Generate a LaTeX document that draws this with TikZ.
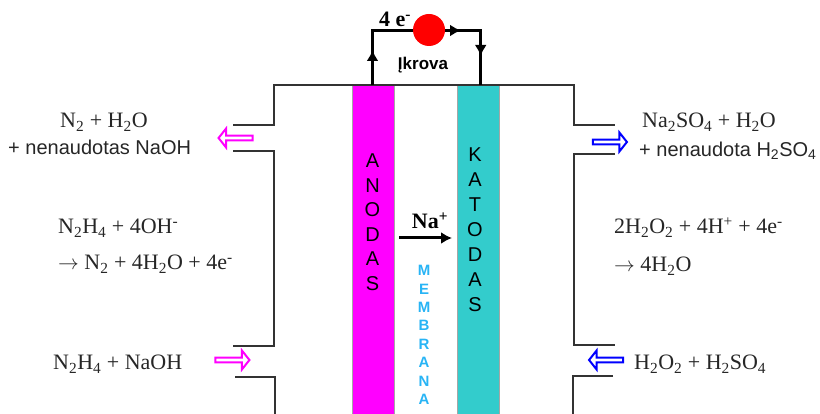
\documentclass[tikz,border=0pt]{standalone}
\usepackage{fontspec}
\setmainfont{Liberation Serif}
\setsansfont{Liberation Sans}
\usetikzlibrary{arrows.meta,shapes.arrows}
\definecolor{anodecolor}{RGB}{255,0,255}
\definecolor{cathodecolor}{RGB}{51,204,204}
\definecolor{flowblue}{RGB}{0,0,255}
\definecolor{flowred}{RGB}{255,0,0}
\definecolor{membranecolor}{RGB}{40,180,245}
\tikzset{
  formula/.style={anchor=base west, inner sep=0pt, font=\fontsize{22}{26}\selectfont, text=black!85},
  remark/.style={anchor=base west, inner sep=0pt, font=\sffamily\fontsize{20}{24}\selectfont, text=black!85},
  wall/.style={line width=2pt, black!80},
  wire/.style={line width=3pt, >={Latex[length=11pt,width=12pt]}},
  electrode/.style={anchor=north west, minimum height=329pt, minimum width=42pt, inner sep=0pt, draw=black!35, line width=0.7pt},
  letters/.style={inner sep=0pt, align=center, font=\sffamily\fontsize{20}{#1}\selectfont},
  flow/.style={single arrow, draw=#1, fill=white, line width=2pt, inner sep=0pt, minimum height=34pt,
    minimum width=19pt, single arrow head extend=3pt, single arrow tip angle=103}
}
\begin{document}
\begin{tikzpicture}[x=1pt, y=-1pt]
  \useasboundingbox (0,0) rectangle (820,414);
  % electrodes
  \node[electrode, fill=anodecolor] (anode) at (351.5,85) {};
  \node[electrode, fill=cathodecolor] (cathode) at (457,85) {};
  % cell walls
  \draw[wall] (233,125.5) -- (274,125.5) -- (274,85) -- (574,85) -- (574,125) -- (615,125);
  \draw[wall] (233,151) -- (274,151) -- (274,346) -- (233,346);
  \draw[wall] (235,377) -- (275,377) -- (275,414);
  \draw[wall] (615,154) -- (574,154) -- (574,345) -- (615,345);
  \draw[wall] (613,376) -- (573,376) -- (573,414);
  % external circuit
  \coordinate (tipup) at (372.5,50);
  \coordinate (tipright) at (461,30.5);
  \coordinate (tipdown) at (480.7,56);
  \coordinate (corner) at (429,30.5);
  \draw[wire] (tipup |- anode.north) |- (corner) -| (tipdown |- cathode.north);
  \draw[wire, ->] (tipup |- anode.north) -- (tipup);
  \draw[wire, ->] (corner) -- (tipright);
  \draw[wire, ->] (tipdown |- corner) -- (tipdown);
  \node[circle, fill=flowred, minimum size=32pt, inner sep=0pt] (lamp) at (429,30) {};
  \node[anchor=base, inner sep=0pt, font=\bfseries\fontsize{22}{24}\selectfont] (charge) at (395,27) {4 e\textsuperscript{-}};
  \node[anchor=base, inner sep=0pt, font=\sffamily\bfseries\fontsize{17}{20}\selectfont] (mode) at (423,70) {Įkrova};
  % electrode and membrane letters
  \node[letters=24.5pt] (anodetext) at (372.5,222) {A\\N\\O\\D\\A\\S};
  \node[letters=25pt] (cathodetext) at (475,229.5) {K\\A\\T\\O\\D\\A\\S};
  \node[inner sep=0pt, align=center, text=membranecolor,
    font=\sffamily\bfseries\fontsize{15}{18.4}\selectfont] (membrane) at (424,335) {M\\E\\M\\B\\R\\A\\N\\A};
  % ion transfer
  \node[anchor=base, inner sep=0pt, font=\bfseries\fontsize{22}{26}\selectfont] (ion) at (430,229) {Na\textsuperscript{+}};
  \coordinate (ionstart) at (399,238);
  \coordinate (ionend) at (452,238);
  \draw[line width=3pt, -{Latex[length=11pt,width=12pt]}] (ionstart) -- (ionend);
  % flows in and out
  \node[flow=anodecolor, shape border rotate=180] (outa) at (236.5,138) {};
  \node[flow=anodecolor] (ina) at (231.5,360) {};
  \node[flow=flowblue] (outc) at (609,142) {};
  \node[flow=flowblue, shape border rotate=180] (inc) at (607,360) {};
  % left side
  \node[formula] (prodaa) at (60,128) {N\textsubscript{2} + H\textsubscript{2}O};
  \node[remark] (prodab) at (8,155) {+ nenaudotas NaOH};
  \node[formula] (reactaa) at (58,234) {N\textsubscript{2}H\textsubscript{4} + 4OH\textsuperscript{-}};
  \node[formula] (reactab) at (58,270) {$\rightarrow$ N\textsubscript{2} + 4H\textsubscript{2}O + 4e\textsuperscript{-}};
  \node[formula] (feeda) at (53,370) {N\textsubscript{2}H\textsubscript{4} + NaOH};
  % right side
  \node[formula] (prodca) at (642,128) {Na\textsubscript{2}SO\textsubscript{4} + H\textsubscript{2}O};
  \node[remark] (prodcb) at (639,156.5) {+ nenaudota H\textsubscript{2}SO\textsubscript{4}};
  \node[formula] (reactca) at (614,234) {2H\textsubscript{2}O\textsubscript{2} + 4H\textsuperscript{+} + 4e\textsuperscript{-}};
  \node[formula] (reactcb) at (614,272) {$\rightarrow$ 4H\textsubscript{2}O};
  \node[formula] (feedc) at (634,370) {H\textsubscript{2}O\textsubscript{2} + H\textsubscript{2}SO\textsubscript{4}};
\end{tikzpicture}
\end{document}
